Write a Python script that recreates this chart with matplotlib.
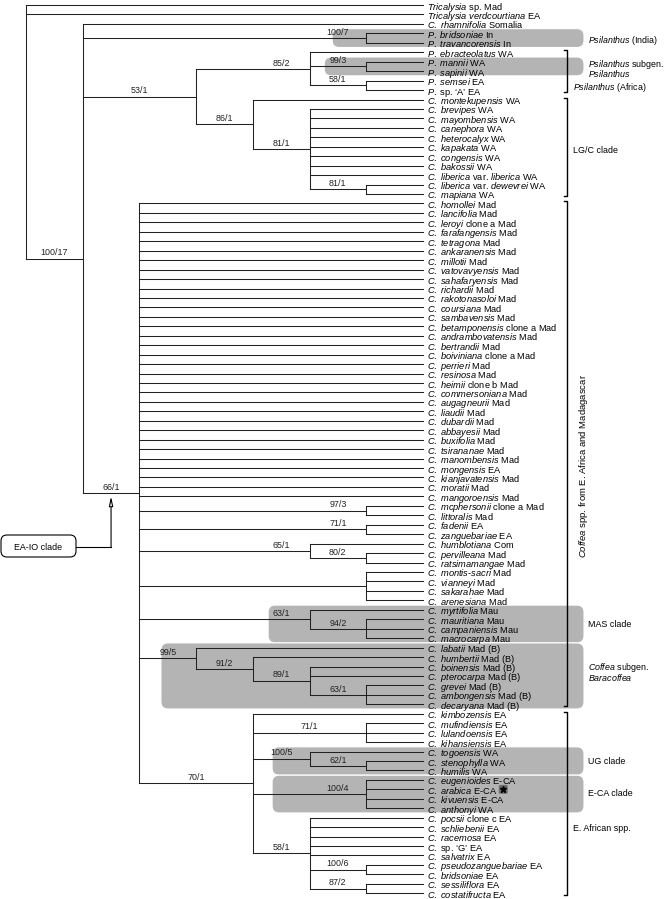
import re
import matplotlib.pyplot as plt
from matplotlib.patches import FancyBboxPatch

plt.rcParams['font.family'] = 'Liberation Sans'
plt.rcParams['mathtext.fontset'] = 'custom'
plt.rcParams['mathtext.rm'] = 'Liberation Sans'
plt.rcParams['mathtext.it'] = 'Liberation Sans:italic'

# tip names, *...* = italic
tips = [
    "*Tricalysia* sp. Mad",
    "*Tricalysia verdcourtiana* EA",
    "*C. rhamnifolia* Somalia",
    "*P. bridsoniae* In",
    "*P. travancorensis* In",
    "*P. ebracteolatus* WA",
    "*P. mannii* WA",
    "*P. sapinii* WA",
    "*P. semsei* EA",
    "*P.* sp. ‘A’ EA",
    "*C. montekupensis* WA",
    "*C. brevipes* WA",
    "*C. mayombensis* WA",
    "*C. canephora* WA",
    "*C. heterocalyx* WA",
    "*C. kapakata* WA",
    "*C. congensis* WA",
    "*C. bakossii* WA",
    "*C. liberica* var. *liberica* WA",
    "*C. liberica* var. *dewevrei* WA",
    "*C. mapiana* WA",
    "*C. homollei* Mad",
    "*C. lancifolia* Mad",
    "*C. leroyi* clone a Mad",
    "*C. farafangensis* Mad",
    "*C. tetragona* Mad",
    "*C. ankaranensis* Mad",
    "*C. millotii* Mad",
    "*C. vatovavyensis* Mad",
    "*C. sahafaryensis* Mad",
    "*C. richardii* Mad",
    "*C. rakotonasoloi* Mad",
    "*C. coursiana* Mad",
    "*C. sambavensis* Mad",
    "*C. betamponensis* clone a Mad",
    "*C. andrambovatensis* Mad",
    "*C. bertrandii* Mad",
    "*C. boiviniana* clone a Mad",
    "*C. perrieri* Mad",
    "*C. resinosa* Mad",
    "*C. heimii* clone b Mad",
    "*C. commersoniana* Mad",
    "*C. augagneurii* Mad",
    "*C. liaudii* Mad",
    "*C. dubardii* Mad",
    "*C. abbayesii* Mad",
    "*C. buxifolia* Mad",
    "*C. tsirananae* Mad",
    "*C. manombensis* Mad",
    "*C. mongensis* EA",
    "*C. kianjavatensis* Mad",
    "*C. moratii* Mad",
    "*C. mangoroensis* Mad",
    "*C. mcphersonii* clone a Mad",
    "*C. littoralis* Mad",
    "*C. fadenii* EA",
    "*C. zanguebariae* EA",
    "*C. humblotiana* Com",
    "*C. pervilleana* Mad",
    "*C. ratsimamangae* Mad",
    "*C. montis*-*sacri* Mad",
    "*C. vianneyi* Mad",
    "*C. sakarahae* Mad",
    "*C. arenesiana* Mad",
    "*C. myrtifolia* Mau",
    "*C. mauritiana* Mau",
    "*C. campaniensis* Mau",
    "*C. macrocarpa* Mau",
    "*C. labatii* Mad (B)",
    "*C. humbertii* Mad (B)",
    "*C. boinensis* Mad (B)",
    "*C. pterocarpa* Mad (B)",
    "*C. grevei* Mad (B)",
    "*C. ambongensis* Mad (B)",
    "*C. decaryana* Mad (B)",
    "*C. kimbozensis* EA",
    "*C. mufindiensis* EA",
    "*C. lulandoensis* EA",
    "*C. kihansiensis* EA",
    "*C. togoensis* WA",
    "*C. stenophylla* WA",
    "*C. humilis* WA",
    "*C. eugenioides* E-CA",
    "*C. arabica* E-CA",
    "*C. kivuensis* E-CA",
    "*C. anthonyi* WA",
    "*C. pocsii* clone c EA",
    "*C. schliebenii* EA",
    "*C. racemosa* EA",
    "*C.* sp. ‘G’ EA",
    "*C. salvatrix* EA",
    "*C. pseudozanguebariae* EA",
    "*C. bridsoniae* EA",
    "*C. sessiliflora* EA",
    "*C. costatifructa* EA",
]

# topology (numbers = index in tips), node labels = support; "=" -> label mid-branch
tree = ("(0,1,(2,(3,4)100/7,((5,(6,7)99/3,(8,9)58/1)85/2,"
        "(10,(11,12,13,14,15,16,17,18,(19,20)81/1)81/1)86/1)=53/1,"
        "(21,22,23,24,25,26,27,28,29,30,31,32,33,34,35,36,37,38,39,40,"
        "41,42,43,44,45,46,47,48,49,50,51,52,(53,54)97/3,(55,56)71/1,"
        "(57,(58,59)80/2)65/1,(60,61,62,63),(64,(65,66,67)94/2)63/1,"
        "(68,(69,(70,71,(72,73,74)63/1)89/1)91/2)99/5,"
        "(75,(76,77,78)=71/1,(79,(80,81)62/1)100/5,(82,83,84,85)100/4,"
        "(86,87,88,89,90,(91,92)100/6,(93,94)87/2)58/1)=70/1)66/1)100/17)")

# shaded clades: (first tip, last tip)
boxes = [(3, 4), (6, 7), (64, 67), (68, 74), (79, 81), (82, 85)]
box_left = [5.4, 5.26, 4.27, 2.38, 4.34, 4.34]   # in tree levels
box_labels = [["*Psilanthus* (India)"],
              ["*Psilanthus* subgen.", "*Psilanthus*"],
              ["MAS clade"],
              ["*Coffea* subgen.", "*Baracoffea*"],
              ["UG clade"], ["E-CA clade"]]
box_label_dy = [0, 1, 0, -5, 0, -2]
# brackets
brackets = [(5, 9), (10, 20), (21, 74), (75, 94)]
bracket_labels = ["*Psilanthus* (Africa)", "LG/C clade",
                  "*Coffea* spp. from E. Africa and Madagascar",
                  "E. African spp."]

X0, DX = 26, 56.7
Y0, DY = 5, 9.45
FS = 6.7
FS2 = 6.4
LC = '#222222'
LW = 0.75


def fmt(s):
    parts = s.split('*')
    out = ''
    for i, p in enumerate(parts):
        if i % 2:
            out += r'$\mathit{' + p.replace(' ', r'\ ') + '}$'
        else:
            out += p
    return out


def parse(s):
    pos = 0

    def node():
        nonlocal pos
        if s[pos] == '(':
            pos += 1
            kids = [node()]
            while s[pos] == ',':
                pos += 1
                kids.append(node())
            pos += 1
            lab = re.match(r'[^,()]*', s[pos:]).group(0)
            pos += len(lab)
            return {'kids': kids, 'label': lab}
        num = re.match(r'\d+', s[pos:]).group(0)
        pos += len(num)
        return {'tip': int(num)}
    return node()


def height(n):
    if 'tip' in n:
        n['h'] = 0
    else:
        n['h'] = max(height(k) for k in n['kids']) + 1
    return n['h']


def place(n, H):
    n['x'] = X0 + (H - n['h']) * DX
    if 'tip' in n:
        n['y'] = Y0 + DY * n['tip']
    else:
        for k in n['kids']:
            place(k, H)
        n['y'] = (n['kids'][0]['y'] + n['kids'][-1]['y']) / 2


root = parse(tree)
H = height(root)
place(root, H)
tip_x = X0 + H * DX

fig = plt.figure(figsize=(6.66, 8.99), dpi=100)
ax = fig.add_axes([0, 0, 1, 1])
ax.set_xlim(0, 666)
ax.set_ylim(899, 0)
ax.axis('off')


def draw(n):
    if 'kids' not in n:
        return
    ks = n['kids']
    ax.plot([n['x'], n['x']], [ks[0]['y'], ks[-1]['y']], color=LC, lw=LW, zorder=3)
    for k in ks:
        ax.plot([n['x'], k['x']], [k['y'], k['y']], color=LC, lw=LW, zorder=3)
        lab = k.get('label', '')
        if lab:
            if lab.startswith('='):
                cx = (n['x'] + k['x']) / 2
                lab = lab[1:]
            else:
                cx = k['x'] - DX / 2
            ax.text(cx, k['y'] - 1.2, lab, ha='center', va='bottom',
                    fontsize=FS2, color='#222222', zorder=4)
        draw(k)


draw(root)

tip_texts = []
for i, name in enumerate(tips):
    t = ax.text(tip_x + 4, Y0 + DY * i, fmt(name), ha='left', va='center_baseline',
                fontsize=FS, zorder=4)
    tip_texts.append(t)

# grey boxes
for (a, b), lv, lines, dy in zip(boxes, box_left, box_labels, box_label_dy):
    y0 = Y0 + DY * a - 4.7
    y1 = Y0 + DY * b + 4.7
    x0 = X0 + lv * DX
    ax.add_patch(FancyBboxPatch((x0, y0), 584 - x0, y1 - y0,
                                boxstyle="round,pad=0,rounding_size=7",
                                fc='#b4b4b4', ec='white', lw=0.8, zorder=1))
    yc = (y0 + y1) / 2 + dy
    for j, line in enumerate(lines):
        ax.text(588, yc + (j - (len(lines) - 1) / 2) * 10.5, fmt(line),
                ha='left', va='center_baseline', fontsize=FS2, zorder=4)

# brackets
for (a, b), lab in zip(brackets, bracket_labels):
    y0 = Y0 + DY * a - 2
    y1 = Y0 + DY * b + 2
    ax.plot([564, 567, 567, 564], [y0, y0, y1, y1], color='black', lw=1.0, zorder=3)
    if lab.startswith('*Coffea* spp'):
        ax.text(583, (y0 + y1) / 2 + 12, fmt(lab), rotation=90, ha='center',
                va='center', fontsize=6.8)
    elif lab == "E. African spp.":
        ax.text(573, Y0 + DY * 87, lab, ha='left', va='center_baseline', fontsize=FS2)
    elif lab == "LG/C clade":
        ax.text(573, (y0 + y1) / 2 + 3, lab, ha='left', va='center_baseline', fontsize=FS2)
    else:
        ax.text(573, Y0 + DY * 8.5, fmt(lab), ha='left', va='center_baseline', fontsize=FS2)

# EA-IO clade callout
eaio = root['kids'][2]['kids'][3]
ax.add_patch(FancyBboxPatch((1, 535), 75, 22, boxstyle="round,pad=0,rounding_size=6",
                            fc='white', ec='black', lw=0.8, zorder=3))
ax.text(38.5, 546, "EA-IO clade", ha='center', va='center_baseline', fontsize=FS2)
ax_x = (root['kids'][2]['x'] + eaio['x']) / 2
ax.plot([76, ax_x], [547, 547], color='black', lw=0.8)
ax.annotate('', xy=(ax_x, eaio['y'] + 3), xytext=(ax_x, 547.4),
            arrowprops=dict(arrowstyle='-|>,head_length=0.55,head_width=0.12',
                            fc='white', ec='black', lw=0.8, shrinkA=0, shrinkB=0))

# star marker next to C. arabica
fig.canvas.draw()
bb = tip_texts[83].get_window_extent().transformed(ax.transData.inverted())
sx = bb.x1 + 6
sy = Y0 + DY * 83
ax.add_patch(FancyBboxPatch((sx - 4.5, sy - 4.5), 9, 9,
                            boxstyle="round,pad=0,rounding_size=1.5",
                            fc='#6e6e6e', ec='none', zorder=4))
ax.plot(sx, sy, marker='*', ms=5, color='black', zorder=5)

fig.savefig('out.png', dpi=100)
